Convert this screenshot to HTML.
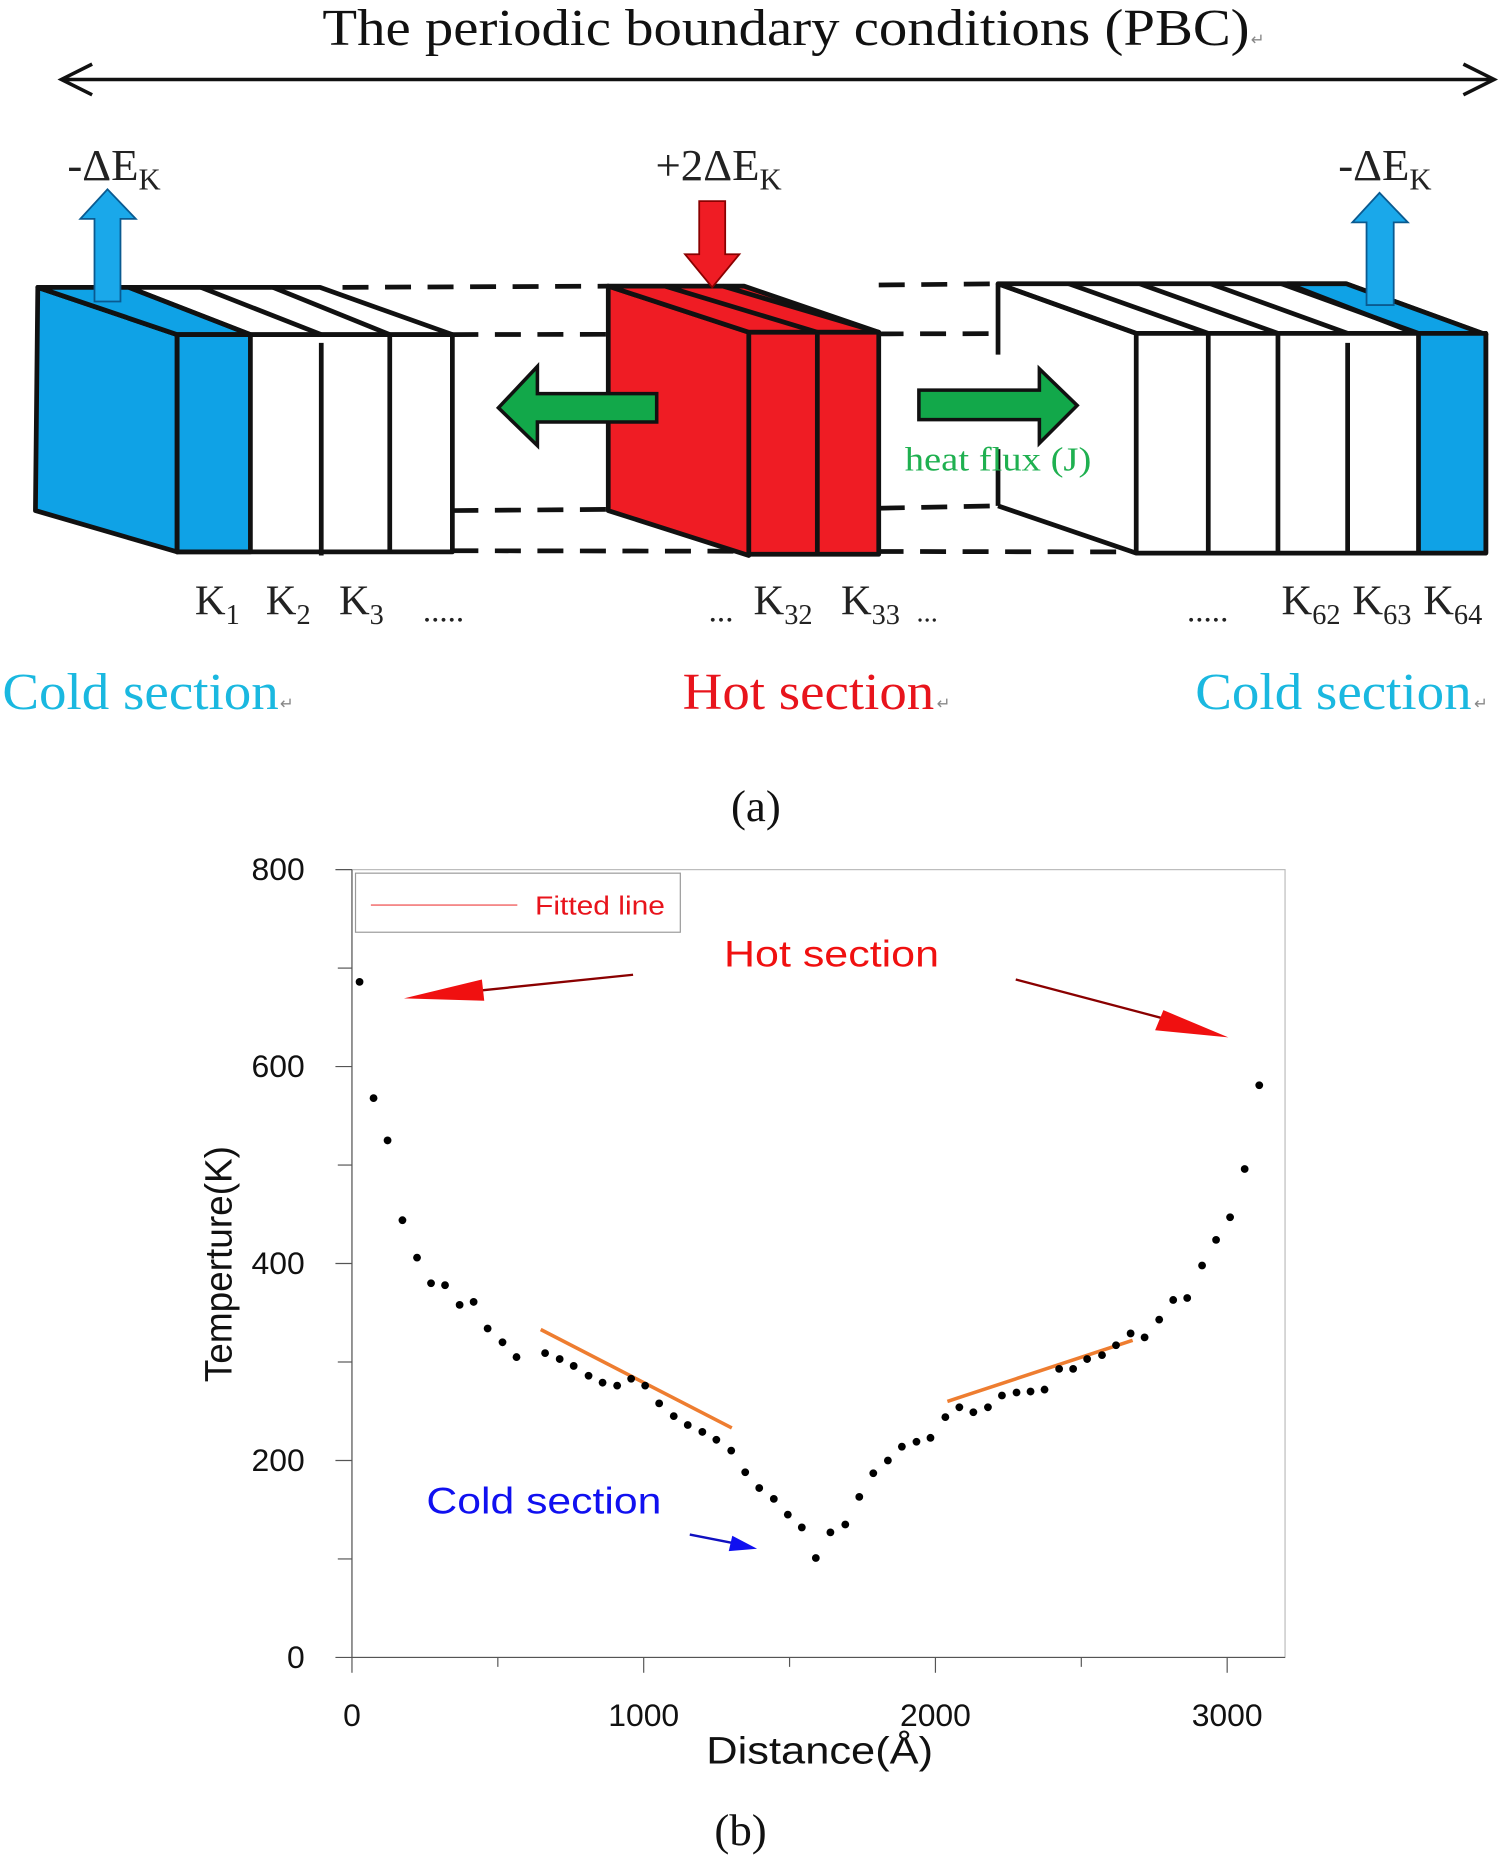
<!DOCTYPE html>
<html><head><meta charset="utf-8">
<style>
html,body{margin:0;padding:0;background:#fff;}
svg{display:block;}
.serif{font-family:"Liberation Serif",serif;}
.sans{font-family:"Liberation Sans",sans-serif;}
</style></head>
<body>
<svg id="fig" width="1500" height="1855" viewBox="0 0 1270 1570" xmlns="http://www.w3.org/2000/svg">
<rect width="1270" height="1570" fill="#fff"/>
<g class="serif">
  <text x="273" y="38" font-size="44" fill="#111" textLength="785" lengthAdjust="spacingAndGlyphs">The periodic boundary conditions (PBC)</text>
  <text x="1059" y="38" font-size="14" fill="#888">↵</text>
  <g stroke="#111" stroke-width="3" fill="none">
    <line x1="52" y1="67" x2="1265" y2="67"/>
    <polyline points="78,54 52,67 78,80"/>
    <polyline points="1239,54 1265,67 1239,80"/>
  </g>
  <g stroke="#111" stroke-width="4" stroke-dasharray="22,14" fill="none">
    <line x1="290" y1="243" x2="515" y2="242"/>
    <line x1="744" y1="241" x2="845" y2="240"/>
    <line x1="383" y1="283" x2="962" y2="282"/>
    <line x1="383" y1="432" x2="515" y2="431"/>
    <line x1="744" y1="430" x2="845" y2="428"/>
    <line x1="383" y1="466" x2="962" y2="467"/>
  </g>
  <g stroke="#111" stroke-width="4" stroke-linejoin="round">
    <polygon points="32,243 150,283 150,467 30,432" fill="#0fa2e6"/>
    <polygon points="32,243 271,243 383,283 150,283" fill="#fff"/>
    <polygon points="32,243 109,243 212,283 150,283" fill="#0fa2e6"/>
    <line x1="109" y1="243" x2="212" y2="283"/><line x1="170" y1="243" x2="272" y2="283"/><line x1="231" y1="243" x2="330" y2="283"/>
    <rect x="150" y="283" width="233" height="184" fill="#fff"/>
    <rect x="150" y="283" width="62" height="184" fill="#0fa2e6"/>
    <line x1="272" y1="290" x2="272" y2="470"/><line x1="330" y1="283" x2="330" y2="467"/>
  </g>
  <g stroke="#111" stroke-width="4" stroke-linejoin="round">
    <polygon points="515,242 634,281 634,470 515,432" fill="#ef1c24"/>
    <polygon points="515,242 630,242 744,281 634,281" fill="#ef1c24"/>
    <line x1="563" y1="242" x2="692" y2="281"/><line x1="612" y1="242" x2="744" y2="281"/>
    <rect x="634" y="281" width="110" height="188" fill="#ef1c24"/>
    <line x1="692" y1="281" x2="692" y2="469"/>
  </g>
  <g stroke="#111" stroke-width="4" stroke-linejoin="round">
    <polygon points="845,240 962,282 962,468 845,428" fill="#fff" stroke="none"/>
    <line x1="845" y1="240" x2="845" y2="300"/><line x1="845" y1="380" x2="845" y2="428"/>
    <line x1="845" y1="428" x2="962" y2="468"/>
    <polygon points="845,240 1140,240 1258,283 962,282" fill="#fff"/>
    <polygon points="1090,240 1140,240 1258,283 1201,283" fill="#0fa2e6"/>
    <line x1="845" y1="240" x2="962" y2="282"/>
    <line x1="905" y1="240" x2="1023" y2="282"/><line x1="965" y1="240" x2="1082" y2="282"/><line x1="1025" y1="240" x2="1141" y2="282"/><line x1="1085" y1="240" x2="1201" y2="282"/>
    <rect x="962" y="282" width="296" height="186" fill="#fff"/>
    <rect x="1201" y="282" width="57" height="186" fill="#0fa2e6"/>
    <line x1="1023" y1="282" x2="1023" y2="468"/><line x1="1082" y1="282" x2="1082" y2="468"/><line x1="1141" y1="290" x2="1141" y2="470"/>
  </g>
  <polygon points="556,333 455,333 455,310 422,345 455,377 455,357 556,357" fill="#12a84a" stroke="#111" stroke-width="3"/>
  <polygon points="778,330 880,330 880,312 912,343 880,375 880,355 778,355" fill="#12a84a" stroke="#111" stroke-width="3"/>
  <text x="766" y="398" font-size="29" fill="#1fb050" textLength="158" lengthAdjust="spacingAndGlyphs">heat flux (J)</text>
  <polygon points="80,255 80,185 68,185 91,160 115,185 102,185 102,255" fill="#1aa8ea" stroke="#0a5a90" stroke-width="1.5"/>
  <polygon points="1157,258 1157,188 1145,188 1168,163 1192,188 1180,188 1180,258" fill="#1aa8ea" stroke="#0a5a90" stroke-width="1.5"/>
  <polygon points="592,170 614,170 614,215 626,215 603,243 580,215 592,215" fill="#ef1c24" stroke="#8a0000" stroke-width="1.5"/>
  <text x="57" y="152" font-size="38" fill="#222">-ΔE<tspan font-size="26" dy="8">K</tspan></text>
  <text x="555" y="152" font-size="38" fill="#222">+2ΔE<tspan font-size="26" dy="8">K</tspan></text>
  <text x="1133" y="152" font-size="38" fill="#222">-ΔE<tspan font-size="26" dy="8">K</tspan></text>
  <g font-size="36" fill="#222">
    <text x="165" y="520">K<tspan font-size="24" dy="8">1</tspan></text>
    <text x="225" y="520">K<tspan font-size="24" dy="8">2</tspan></text>
    <text x="287" y="520">K<tspan font-size="24" dy="8">3</tspan></text>
    <text x="358" y="526" font-size="28">.....</text>
    <text x="600" y="526" font-size="28">...</text>
    <text x="638" y="520">K<tspan font-size="24" dy="8">32</tspan></text>
    <text x="712" y="520">K<tspan font-size="24" dy="8">33</tspan></text>
    <text x="776" y="526" font-size="24">...</text>
    <text x="1005" y="526" font-size="28">.....</text>
    <text x="1085" y="520">K<tspan font-size="24" dy="8">62</tspan></text>
    <text x="1145" y="520">K<tspan font-size="24" dy="8">63</tspan></text>
    <text x="1205" y="520">K<tspan font-size="24" dy="8">64</tspan></text>
  </g>
  <text x="2" y="600" font-size="44" fill="#1ab8e0" textLength="234" lengthAdjust="spacingAndGlyphs">Cold section</text>
  <text x="237" y="600" font-size="14" fill="#888">↵</text>
  <text x="578" y="600" font-size="44" fill="#e8141c" textLength="213" lengthAdjust="spacingAndGlyphs">Hot section</text>
  <text x="793" y="600" font-size="14" fill="#888">↵</text>
  <text x="1012" y="600" font-size="44" fill="#1ab8e0" textLength="234" lengthAdjust="spacingAndGlyphs">Cold section</text>
  <text x="1248" y="600" font-size="14" fill="#888">↵</text>
  <text x="640" y="695" font-size="38" text-anchor="middle" fill="#111">(a)</text>
</g>
<g id="chart" class="sans">
  <rect x="298" y="736" width="790" height="667" fill="none" stroke="#bbb" stroke-width="1"/>
  <line x1="298" y1="736" x2="298" y2="1403" stroke="#555" stroke-width="1"/>
  <line x1="298" y1="1403" x2="1088" y2="1403" stroke="#555" stroke-width="1"/>
  <g id="ticks"></g>
  <rect x="301" y="739" width="275" height="50" fill="#fff" stroke="#999" stroke-width="1"/>
  <line x1="314" y1="766" x2="438" y2="766" stroke="#f06060" stroke-width="1.2"/>
  <text x="453" y="774" font-size="22" fill="#e8141c" textLength="110" lengthAdjust="spacingAndGlyphs">Fitted line</text>
  <g id="marks"></g>
  <text x="613" y="818" font-size="31" fill="#f01010" textLength="182" lengthAdjust="spacingAndGlyphs">Hot section</text>
  <g><line x1="536" y1="825" x2="400" y2="839" stroke="#8a0000" stroke-width="2"/><polygon points="342,845 408,829 410,847" fill="#f01010"/></g>
  <g><line x1="860" y1="829" x2="985" y2="862" stroke="#8a0000" stroke-width="2"/><polygon points="1040,878 985,855 978,872" fill="#f01010"/></g>
  <text x="361" y="1281" font-size="31" fill="#1010f0" textLength="199" lengthAdjust="spacingAndGlyphs">Cold section</text>
  <g><line x1="584" y1="1299" x2="625" y2="1307" stroke="#1010c0" stroke-width="2"/><polygon points="641,1311 620,1300 617,1313" fill="#1010f0"/></g>
  <text transform="translate(196,1070) rotate(-90)" font-size="32" text-anchor="middle" fill="#111" textLength="200" lengthAdjust="spacingAndGlyphs">Temperture(K)</text>
  <text x="598" y="1493" font-size="32" fill="#111" textLength="192" lengthAdjust="spacingAndGlyphs">Distance(Å)</text>
  <text x="627" y="1562" font-size="38" text-anchor="middle" fill="#111" style="font-family:'Liberation Serif',serif">(b)</text>
</g>
</svg>
<script>
const xTicks = [0, 1000, 2000, 3000];
const xMinor = [500, 1500, 2500];
const yTicks = [0, 200, 400, 600, 800];
const yMinor = [100, 300, 500, 700];
const distances = [26,74,122,173,223,271,319,369,417,465,516,564,662,712,760,811,859,909,957,1005,1053,1103,1151,1201,1249,1300,1348,1396,1446,1494,1542,1590,1640,1691,1739,1787,1837,1885,1935,1983,2034,2082,2130,2180,2228,2278,2326,2374,2424,2472,2520,2571,2619,2669,2717,2767,2815,2863,2914,2962,3010,3060,3110];
const temps = [686,568,525,444,406,380,378,358,361,334,320,305,309,303,296,286,279,276,283,276,258,245,236,229,221,210,188,172,161,145,132,101,127,135,163,187,200,214,219,223,244,254,249,254,266,269,270,272,293,293,303,307,317,329,325,343,363,365,398,424,447,496,581];
const fitLeftX = [647, 1302];
const fitLeftT = [333, 233];
const fitRightX = [2041, 2676];
const fitRightT = [260, 322];

const NS = 'http://www.w3.org/2000/svg';
const X = v => 298 + v * 0.247;
const Y = v => 1403 - v * 0.83375;
const ticks = document.getElementById('ticks');
const marks = document.getElementById('marks');
function mk(tag, attrs, parent) {
  const e = document.createElementNS(NS, tag);
  for (const k in attrs) e.setAttribute(k, attrs[k]);
  parent.appendChild(e);
  return e;
}
xTicks.forEach(v => {
  const t = mk('line', {x1: X(v), x2: X(v), y1: 1403, y2: 1416, stroke: '#555', 'stroke-width': 1}, ticks);
  
  
  const l = mk('text', {x: X(v), y: 1461, 'font-size': 27, 'text-anchor': 'middle', fill: '#111'}, ticks);
  l.textContent = String(v);
  
  
});
xMinor.forEach(v => {
  const t = mk('line', {x1: X(v), x2: X(v), y1: 1403, y2: 1411, stroke: '#555', 'stroke-width': 1}, ticks);
  
  
});
yTicks.forEach(v => {
  const t = mk('line', {x1: 284, x2: 298, y1: Y(v), y2: Y(v), stroke: '#555', 'stroke-width': 1}, ticks);
  
  
  const l = mk('text', {x: 258, y: Y(v) + 9, 'font-size': 27, 'text-anchor': 'end', fill: '#111'}, ticks);
  l.textContent = String(v);
  
  
});
yMinor.forEach(v => {
  const t = mk('line', {x1: 286, x2: 298, y1: Y(v), y2: Y(v), stroke: '#555', 'stroke-width': 1}, ticks);
  
  
});
const f1 = mk('line', {x1: X(fitLeftX[0]), y1: Y(fitLeftT[0]), x2: X(fitLeftX[1]), y2: Y(fitLeftT[1]), stroke: '#ee7d30', 'stroke-width': 3}, marks);


const f2 = mk('line', {x1: X(fitRightX[0]), y1: Y(fitRightT[0]), x2: X(fitRightX[1]), y2: Y(fitRightT[1]), stroke: '#ee7d30', 'stroke-width': 3}, marks);


distances.forEach((d, i) => {
  const c = mk('circle', {cx: X(d), cy: Y(temps[i]), r: 3.3, fill: '#000'}, marks);
  
  
});
</script>
</body></html>
